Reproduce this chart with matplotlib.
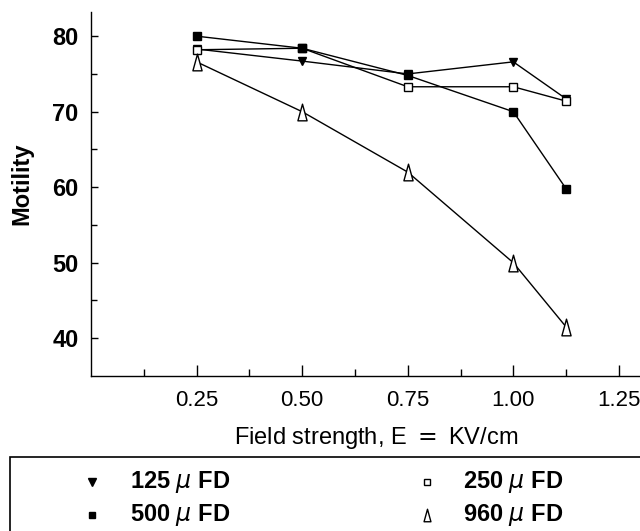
import matplotlib.pyplot as plt
from matplotlib.lines import Line2D
from matplotlib.patches import Rectangle
from matplotlib.path import Path
from matplotlib.ticker import FixedLocator

plt.rcParams['font.family'] = ['Liberation Sans', 'DejaVu Sans']

# Field strength (KV/cm) and motility for each capacitance
field = [0.25, 0.50, 0.75, 1.00, 1.125]
mot_125 = [78.3, 76.7, 75.0, 76.6, 71.7]
mot_250 = [78.2, 78.4, 73.3, 73.3, 71.4]
mot_500 = [80.0, 78.4, 74.8, 70.0, 59.8]
mot_960 = [76.6, 70.0, 62.0, 50.0, 41.5]

x_ticks = [0.25, 0.50, 0.75, 1.00, 1.25]
x_ticklabels = ['0.25', '0.50', '0.75', '1.00', '1.25']
y_ticks = [40, 50, 60, 70, 80]
legend_labels = ['125 $\\mu$ FD', '500 $\\mu$ FD', '250 $\\mu$ FD', '960 $\\mu$ FD']

# narrow open triangle like the original plotter symbol
tri = Path([(0, 1), (-0.55, -1), (0.55, -1), (0, 1)], closed=True)

fig = plt.figure(figsize=(6.4, 5.31), dpi=100)
ax = fig.add_axes([91 / 640, 1 - 376 / 531, 1 - 91 / 640, (376 - 12) / 531])

ax.plot(field, mot_125, '-', color='black', lw=1.0, marker='v', ms=6)
ax.plot(field, mot_250, '-', color='black', lw=1.0, marker='s', ms=5.5,
        mfc='white', mew=1.0)
ax.plot(field, mot_500, '-', color='black', lw=1.0, marker='s', ms=5.5)
ax.plot(field, mot_960, '-', color='black', lw=1.0, marker=tri, ms=12,
        mfc='white', mew=1.0)

ax.set_xlim(0, 1.3)
ax.set_ylim(35, 83.2)
ax.spines['top'].set_visible(False)
ax.spines['right'].set_visible(False)
for s in ('left', 'bottom'):
    ax.spines[s].set_linewidth(1.0)

ax.xaxis.set_major_locator(FixedLocator(x_ticks))
ax.set_xticklabels(x_ticklabels)
ax.xaxis.set_minor_locator(FixedLocator([0.125, 0.375, 0.625, 0.875, 1.125]))
ax.yaxis.set_major_locator(FixedLocator(y_ticks))
ax.yaxis.set_minor_locator(FixedLocator([45, 55, 65, 75]))

ax.tick_params(axis='x', which='major', direction='in', length=8, width=1.0,
               labelsize=16, pad=10)
ax.tick_params(axis='x', which='minor', direction='in', length=5, width=1.0)
ax.tick_params(axis='y', which='major', direction='in', length=5, width=1.0,
               labelsize=17, pad=9)
ax.tick_params(axis='y', which='minor', direction='in', length=4, width=1.0)
for lab in ax.get_yticklabels():
    lab.set_fontweight('bold')

ax.set_xlabel('Field strength, E $=$ KV/cm', fontsize=17)
ax.xaxis.set_label_coords((376 - 91) / (640 - 91), -(425 - 376) / (376 - 12))
ax.set_ylabel('Motility', fontsize=17, fontweight='bold')
ax.yaxis.set_label_coords(-(91 - 33) / (640 - 91), (376 - 184) / (376 - 12))

# legend box, open to the right and bottom edges
fig.add_artist(Rectangle((10 / 640, -0.05), 1.1, 1 - 457 / 531 + 0.05,
                         transform=fig.transFigure, fill=False,
                         edgecolor='black', lw=1.2))

legend_markers = [('v', 'black', 6), ('s', 'black', 5),
                  ('s', 'white', 5), (tri, 'white', 9)]
legend_pos = [(92, 482, 130), (92, 515, 130), (427, 482, 463), (427, 515, 463)]
for (mk, fc, size), (mx, my, tx), text in zip(legend_markers, legend_pos, legend_labels):
    fig.add_artist(Line2D([mx / 640], [1 - my / 531], transform=fig.transFigure,
                          marker=mk, ms=size, mfc=fc, mec='black', mew=1.0,
                          ls='none'))
    fig.text(tx / 640, 1 - my / 531, text, fontsize=17, fontweight='bold',
             va='center', ha='left')

fig.savefig('out.png', dpi=100)
